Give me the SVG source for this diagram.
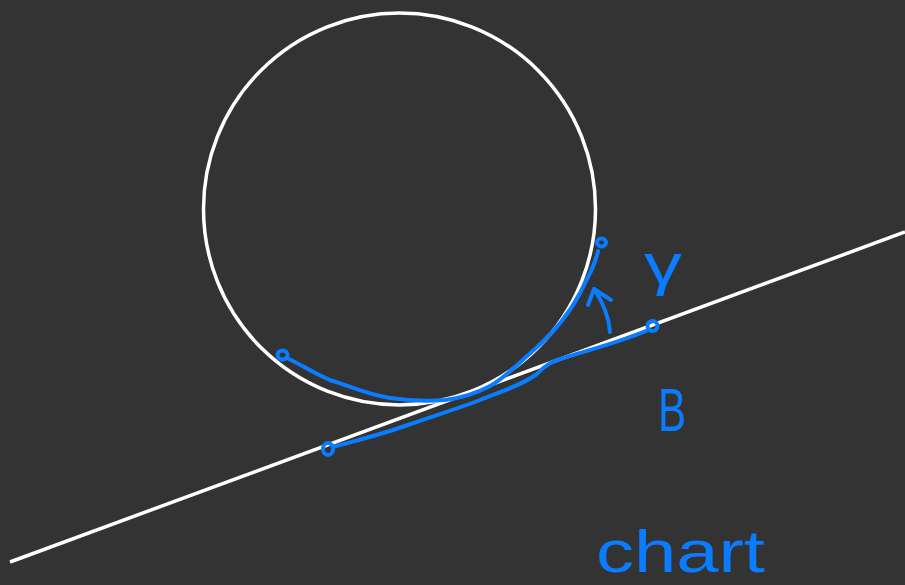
<svg xmlns="http://www.w3.org/2000/svg" width="905" height="585" viewBox="0 0 905 585">
<style>
.w{fill:none;stroke:#ffffff;stroke-width:3.5}
.b{fill:none;stroke:#0a7cff;stroke-width:4;stroke-linecap:round;stroke-linejoin:round}
.t{fill:#0a7cff;font-family:"Liberation Sans",Arial,sans-serif}
</style>
<rect width="905" height="585" fill="#333333"/>
<g id="circle"><circle class="w" cx="399.5" cy="209" r="196"/></g>
<g id="line"><line class="w" x1="10" y1="562" x2="905" y2="232"/></g>
<g id="connectors">
<path class="b" d="M287,358 C300,364 315,374 330,380 C350,386 365,394 390,398 C410,401 430,401 445,400 C462,398 475,394 490,386 C505,378 520,362 535,349 C552,334 568,316 580,293 C590,274 596,262 598,251"/>
<ellipse class="b" cx="282.5" cy="355" rx="5" ry="4.5"/>
<ellipse class="b" cx="601.5" cy="242.5" rx="4.5" ry="4"/>
<path class="b" d="M333,447 C350,442 380,435 405,426 C430,417 460,408 480,400 C500,392 520,386 537,374 C545,365 552,361 570,356 C600,347 625,340 646,331"/>
<ellipse class="b" cx="328" cy="449" rx="5" ry="6"/>
<ellipse class="b" cx="652.5" cy="326" rx="5" ry="5"/>
<path class="b" d="M610,332 C609,318 604,304 594,289"/>
<path class="b" d="M588,305 L594,289 L611,300"/>
</g>
<g id="labels">
<text class="t" x="644" y="284" font-size="58" textLength="38" lengthAdjust="spacingAndGlyphs">γ</text>
<text class="t" x="658" y="431" font-size="62" textLength="28" lengthAdjust="spacingAndGlyphs">B</text>
<text class="t" x="596" y="572" font-size="59" textLength="169" lengthAdjust="spacingAndGlyphs">chart</text>
</g>
</svg>
